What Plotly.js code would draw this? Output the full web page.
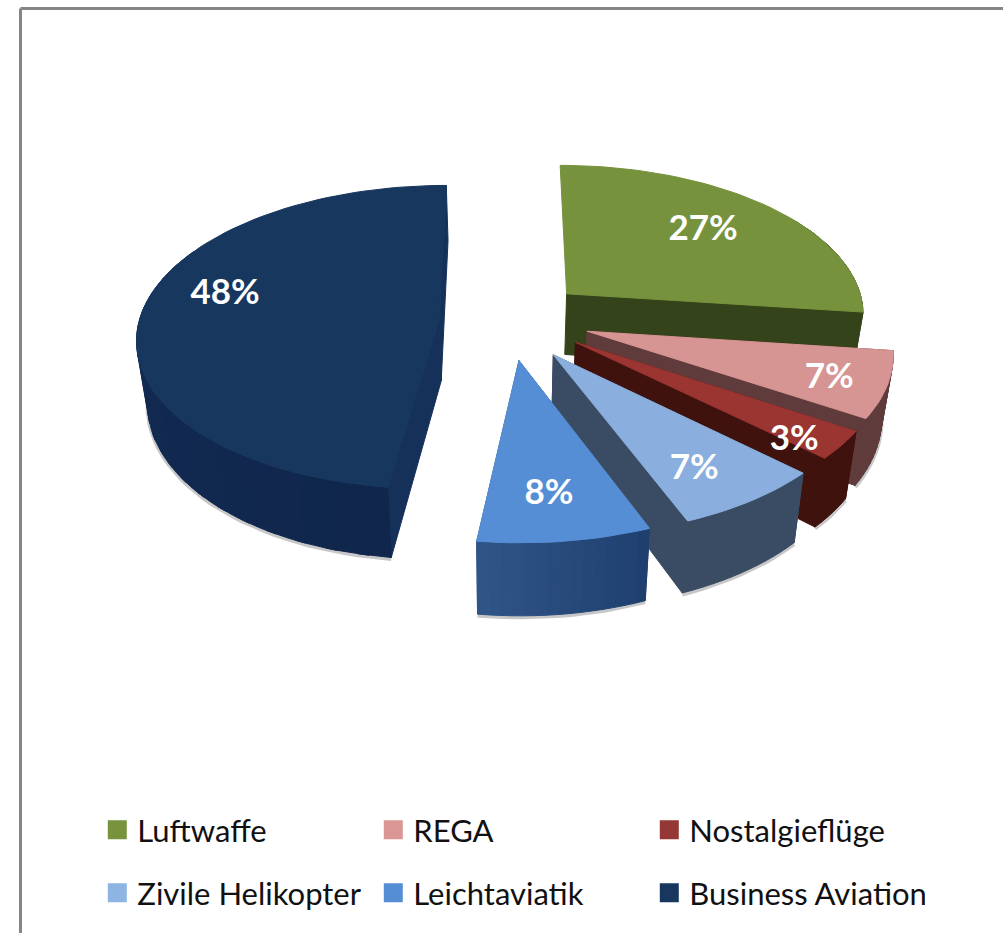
<!DOCTYPE html>
<html><head><meta charset="utf-8">
<script src="https://cdn.plot.ly/plotly-3.0.1.min.js"></script>
<style>html,body{margin:0;padding:0;background:#fff;overflow:hidden}#chart{width:1003px;height:933px}</style>
</head><body><div id="chart"></div>
<script>
// ---- data ----
const categories = ['Luftwaffe','REGA','Nostalgieflüge','Zivile Helikopter','Leichtaviatik','Business Aviation'];
const values = [27,7,3,7,8,48];
const legendRows = [[0,1,2],[3,4,5]];
// ---- styling ----
const topColors = ['#76923c','#d69492','#9a3532','#8aaedd','#558ed5','#17375e'];
const legendColors = ['#77933c','#d99694','#953735','#8eb4e3','#558ed5','#17375e'];
const cutColors = ['#34431a','#5f3c3b','#3f120e','#3a4c64','#3a5a88','#15315a'];
const rimLight = ['#34431a','#5f3c3b','#3f120e','#3a4c64','#2f5487','#15305a'];
const rimDark = ['#34431a','#5f3c3b','#3f120e','#3a4c64','#1f406f','#10264c'];
const pull = [0.28,0.28,0.27,0.27,0.26,0.22];
const pullAngleShift = [0,-5.8,-6.6,-1.3,-2.8,0];
const showStartFace = [false,true,true,true,true,true];
const labelAngle = [46,110.3,131.4,147.9,173.6,284];
const labelRadius = [0.70,0.814,0.867,0.768,0.752,0.758];
// ---- projection of the 3-D pie ----
const view = {vx:505, hy:321, R:300, Q:150, p:0.12, D:62, conv:0.97, labelDrop:3};
const rad = d => d*Math.PI/180;
function project(X,Y,bottom){
  const w = 1+view.p*Y;
  let x = view.vx+view.R*X/w, y = view.hy-view.Q*Y/w;
  if(bottom){ x = view.vx+(x-view.vx)*view.conv; y += view.D/w; }
  return [x,y];
}
function mix(a,b,t){
  const h=s=>[1,3,5].map(i=>parseInt(s.substr(i,2),16));
  const A=h(a),B=h(b);
  return 'rgb('+A.map((v,i)=>Math.round(v+(B[i]-v)*t)).join(',')+')';
}
const traces=[];
function poly(pts,color){
  traces.push({type:'scatter',mode:'lines',x:pts.map(p=>p[0]),y:pts.map(p=>p[1]),fill:'toself',fillcolor:color,
    line:{color:color,width:1},hoverinfo:'skip',showlegend:false});
}
const total = values.reduce((a,b)=>a+b,0);
const slices=[]; let acc=0;
values.forEach((v,i)=>{
  const a0=acc/total*360, a1=(acc+v)/total*360; acc+=v;
  const mid=(a0+a1)/2+pullAngleShift[i];
  const ox=pull[i]*Math.sin(rad(mid)), oy=pull[i]*Math.cos(rad(mid));
  slices.push({a0,a1,ox,oy,i});
});
const rim=(s,a,b)=>project(s.ox+Math.sin(rad(a)),s.oy+Math.cos(rad(a)),b);
const order=[0,5,1,2,3,4];
order.forEach(i=>{
  const s=slices[i];
  const apexT=project(s.ox,s.oy,false), apexB=project(s.ox,s.oy,true);
  const steps=Math.max(4,Math.ceil((s.a1-s.a0)/2));
  const arc=[]; for(let k=0;k<=steps;k++) arc.push(s.a0+(s.a1-s.a0)*k/steps);
  // soft shadow under the lower edge (front-facing part only)
  const sh=arc.filter(a=>Math.cos(rad(a))<0.5).map(a=>{const p=rim(s,a,true);return [p[0],p[1]+1.5];});
  traces.push({type:'scatter',mode:'lines',x:sh.map(p=>p[0]),y:sh.map(p=>p[1]),
    line:{color:'rgba(0,0,0,0.22)',width:4},hoverinfo:'skip',showlegend:false});
  // cut faces
  (showStartFace[i]?[s.a0,s.a1]:[s.a1]).forEach(a=>{
    poly([apexT,rim(s,a,false),rim(s,a,true),apexB,apexT],cutColors[i]);
  });
  // rim, in bands so that it can shade; the part facing away is never seen
  const bands=Math.min(30,steps);
  for(let b=0;b<bands;b++){
    const a=arc.filter((_,k)=>k>=Math.floor(b*steps/bands)&&k<=Math.ceil((b+1)*steps/bands));
    if(Math.cos(rad(a[Math.floor(a.length/2)]))>0.5) continue;
    const pts=a.map(x=>rim(s,x,false)).concat(a.slice().reverse().map(x=>rim(s,x,true)));
    pts.push(pts[0]);
    poly(pts,mix(rimDark[i],rimLight[i],b/(bands-1||1)));
  }
  // top face
  const top=[apexT].concat(arc.map(a=>rim(s,a,false)));top.push(apexT);
  poly(top,topColors[i]);
});
// percentage labels
const lab=slices.map(s=>{
  const i=s.i,a=rad(labelAngle[i]),r=labelRadius[i];
  return project(s.ox+r*Math.sin(a),s.oy+r*Math.cos(a),false);
});
traces.push({type:'scatter',mode:'text',x:lab.map(p=>p[0]),y:lab.map(p=>p[1]+view.labelDrop),
  text:values.map(v=>v+'%'),textposition:'middle center',
  textfont:{family:'Lato, sans-serif',size:35,color:'#ffffff',weight:700},hoverinfo:'skip',showlegend:false,cliponaxis:false});
// legend entries
legendRows.forEach((row,r)=>row.forEach(i=>{
  traces.push({type:'scatter',mode:'markers',x:[null],y:[null],name:categories[i],
    legend:r==0?'legend':'legend2',
    marker:{symbol:'square',size:16,color:legendColors[i],line:{color:legendColors[i],width:3}},hoverinfo:'skip',showlegend:true});
}));
const legendBase={orientation:'h',xanchor:'left',yanchor:'middle',x:0.097,bgcolor:'rgba(0,0,0,0)',
  entrywidth:231,entrywidthmode:'pixels',itemwidth:30,itemclick:false,itemdoubleclick:false,traceorder:'normal',
  font:{family:'Lato, sans-serif',size:31,color:'#111111'},borderwidth:0};
const layout={width:1003,height:933,margin:{l:0,r:0,t:0,b:0},paper_bgcolor:'#fff',plot_bgcolor:'#fff',
  xaxis:{range:[0,1003],visible:false,fixedrange:true},
  yaxis:{range:[933,0],visible:false,fixedrange:true},
  legend:Object.assign({},legendBase,{y:1-830/933}),
  legend2:Object.assign({},legendBase,{y:1-893/933}),
  hovermode:false,
  shapes:[
    {type:'line',xref:'paper',yref:'paper',x0:20.5/1003,x1:1,y0:1-8.5/933,y1:1-8.5/933,line:{color:'#868686',width:3}},
    {type:'line',xref:'paper',yref:'paper',x0:20.5/1003,x1:20.5/1003,y0:0,y1:1-8.5/933,line:{color:'#868686',width:3}}
  ]};
Plotly.newPlot('chart',traces,layout,{displayModeBar:false,staticPlot:true});
</script></body></html>
